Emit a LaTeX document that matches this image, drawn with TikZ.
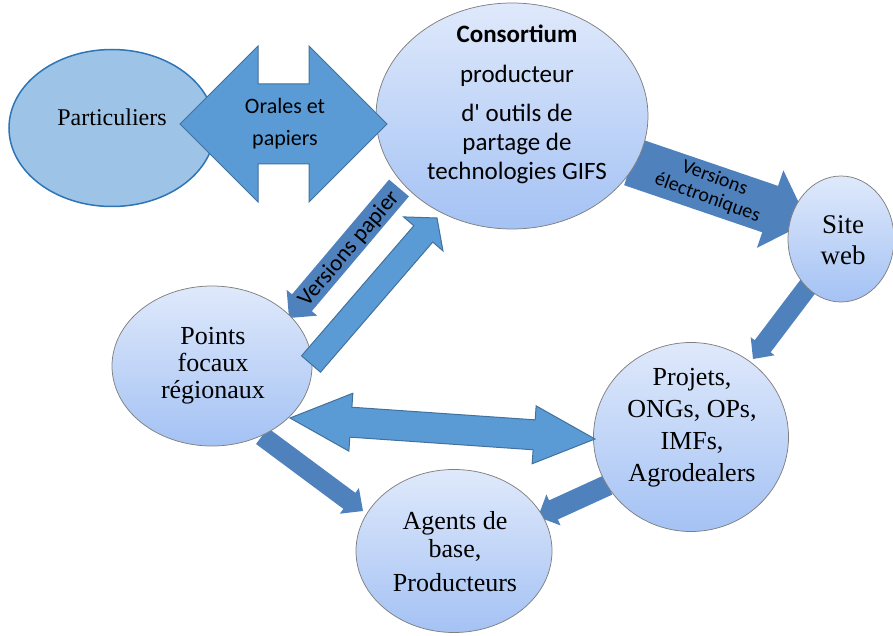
\documentclass[tikz,border=0pt]{standalone}
\usepackage{fontspec}
\setmainfont{Liberation Serif}
\newfontfamily\calibri{Carlito}[Ligatures=TeXOff]
\usetikzlibrary{shapes.geometric, calc}

\definecolor{paleblue}{HTML}{9DC3E6}
\definecolor{edgeblue}{HTML}{2E75B6}
\definecolor{midblue}{HTML}{5B9BD5}
\definecolor{darkedge}{HTML}{41719C}
\definecolor{deepblue}{HTML}{4F81BD}
\definecolor{bubbletop}{HTML}{DFE9FB}
\definecolor{bubblebot}{HTML}{A4C2F4}

% block arrow: style, tail, tip, shaft half width, head half width, head length
\newcommand{\fatarrow}[6]{%
  \coordinate (#3-back) at ($(#3)!#6!(#2)$);
  \filldraw[#1] ($(#2)!#4!90:(#3)$) -- ($(#3-back)!#4!90:(#3)$) -- ($(#3-back)!#5!90:(#3)$)
    -- (#3) -- ($(#3-back)!#5!-90:(#3)$) -- ($(#3-back)!#4!-90:(#3)$) -- ($(#2)!#4!-90:(#3)$) -- cycle;}
% double block arrow: style, left tip, right tip, shaft half width, head half width, head length
\newcommand{\fatdouble}[6]{%
  \coordinate (#2-back) at ($(#2)!#6!(#3)$);
  \coordinate (#3-back) at ($(#3)!#6!(#2)$);
  \filldraw[#1] (#2) -- ($(#2-back)!#5!90:(#3)$) -- ($(#2-back)!#4!90:(#3)$) -- ($(#3-back)!#4!90:(#3)$)
    -- ($(#3-back)!#5!90:(#3)$) -- (#3) -- ($(#3-back)!#5!-90:(#3)$) -- ($(#3-back)!#4!-90:(#3)$)
    -- ($(#2-back)!#4!-90:(#3)$) -- ($(#2-back)!#5!-90:(#3)$) -- cycle;}

\begin{document}
\begin{tikzpicture}
[x=1pt, y=-1pt, line width=0.75pt,
bubble/.style={ellipse, draw=gray, top color=bubbletop, bottom color=bubblebot, inner sep=0pt},
flat/.style={fill=deepblue, draw=none},
outlined/.style={fill=midblue, draw=darkedge, line width=1pt, line join=miter},
serif/.style={align=center, inner sep=0pt, font=\fontsize{26}{27}\selectfont},
sans/.style={align=center, inner sep=0pt, font=\calibri\fontsize{20}{21}\selectfont}]

\useasboundingbox (0,0) rectangle (893,636);

\coordinate (ve-tail) at (632,162);
\coordinate (ve-tip) at (808,222);
\coordinate (vp-tail) at (399,188);
\coordinate (vp-tip) at (289,318);
\coordinate (sw-tail) at (809,285);
\coordinate (sw-tip) at (753,359);
\coordinate (pa-tail) at (262,436);
\coordinate (pa-tip) at (363,511);
\coordinate (pr-tail) at (608,485);
\coordinate (pr-tip) at (538,517);
\coordinate (up-tail) at (311,364);
\coordinate (up-tip) at (437,218);
\coordinate (or-left) at (180,124);
\coordinate (or-right) at (387,124);
\coordinate (dbl-left) at (290,418);
\coordinate (dbl-right) at (595,439);

% plain arrows, under the bubbles
\fatarrow{flat}{ve-tail}{ve-tip}{24.5pt}{41pt}{40pt}
\fatarrow{flat}{vp-tail}{vp-tip}{13pt}{20pt}{20pt}
\fatarrow{flat}{sw-tail}{sw-tip}{10pt}{15pt}{16pt}
\fatarrow{flat}{pa-tail}{pa-tip}{10pt}{16pt}{17pt}
\fatarrow{flat}{pr-tail}{pr-tip}{10.5pt}{17pt}{17pt}

\node[ellipse, draw=edgeblue, fill=paleblue, line width=1.5pt, minimum width=206pt, minimum height=157pt] (part) at (112,128) {};
\node[bubble, minimum width=272pt, minimum height=226pt] (cons) at (512,116) {};
\node[bubble, minimum width=106pt, minimum height=126pt] (site) at (841,239) {};
\node[bubble, minimum width=200pt, minimum height=160pt] (pf) at (212,366) {};
\node[bubble, minimum width=195pt, minimum height=189pt] (proj) at (691,437) {};
\node[bubble, minimum width=196pt, minimum height=163pt] (agents) at (454,551) {};

% outlined arrows, over the bubbles
\fatdouble{outlined}{or-left}{or-right}{40pt}{78pt}{78pt}
\fatarrow{outlined}{up-tail}{up-tip}{12.5pt}{26pt}{21pt}
\fatdouble{outlined}{dbl-left}{dbl-right}{15pt}{29pt}{61pt}

\node[serif, font=\fontsize{24}{27}\selectfont] (part-txt) at (112,117) {Particuliers};
\node[sans, font=\calibri\fontsize{22}{32}\selectfont] (or-txt) at (285,124) {Orales et\\papiers};
\node[sans, font=\calibri\fontsize{25}{29}\selectfont] (cons-txt) at (517,104)
  {\textbf{Consortium}\\[11pt]producteur\\[10pt]d' outils de\\partage de\\technologies GIFS};
\node[sans, rotate=-20] (ve-txt) at (711,188) {Versions\\électroniques};
\node[sans, font=\calibri\fontsize{23}{24}\selectfont, rotate=49.8] (vp-txt) at (349,249) {Versions papier};
\node[serif, font=\fontsize{27}{31}\selectfont] (site-txt) at (843,240) {Site\\web};
\node[serif] (pf-txt) at (213,366) {Points\\focaux\\régionaux};
\node[serif, font=\fontsize{26}{32}\selectfont] (proj-txt) at (692,428) {Projets,\\ONGs, OPs,\\IMFs,\\Agrodealers};
\node[serif, font=\fontsize{26}{28}\selectfont] (ag-txt) at (455,552) {Agents de\\base,\\[6pt]Producteurs};

\end{tikzpicture}
\end{document}
